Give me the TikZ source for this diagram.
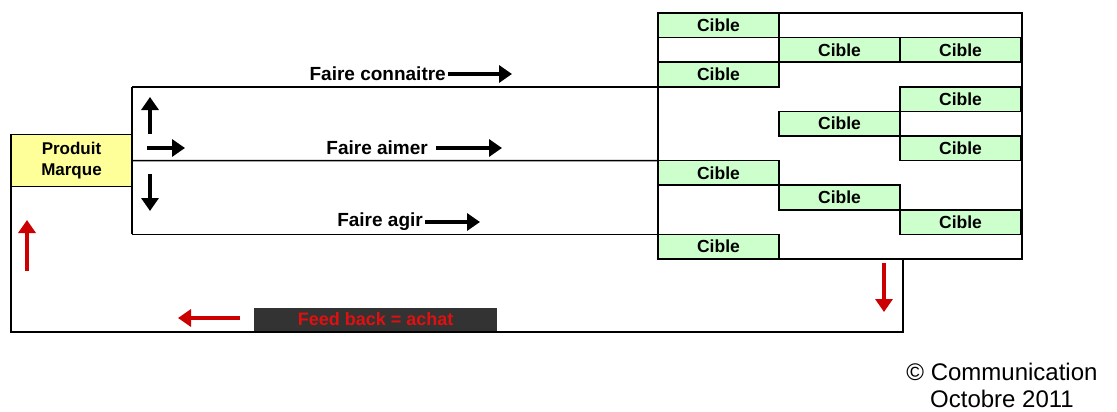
\documentclass[tikz,border=0pt]{standalone}
\usepackage{fontspec}
\setmainfont{Liberation Sans}
\usetikzlibrary{arrows.meta}
\definecolor{cellgreen}{HTML}{CCFFCC}
\definecolor{prodyellow}{HTML}{FFFF99}
\definecolor{fbgray}{HTML}{333333}
\definecolor{fbred}{HTML}{E01010}
\definecolor{arrowred}{HTML}{CC0000}
\begin{document}
\begin{tikzpicture}[x=1pt,y=-1pt,
  cell/.style={draw=black, line width=1.6pt, fill=cellgreen, minimum width=121pt,
    minimum height=24.6pt, inner sep=0pt, outer sep=0pt, anchor=north west,
    font=\fontsize{17.5}{17.5}\selectfont\bfseries},
  wire/.style={line width=1.6pt},
  blkarrow/.style={line width=4.5pt, -{Triangle[length=13pt,width=17pt]}},
  redarrow/.style={arrowred, line width=4.5pt, -{Triangle[length=13pt,width=17pt]}},
  lbl/.style={font=\fontsize{19}{19}\selectfont\bfseries, inner sep=2pt}]
\useasboundingbox (0,0) rectangle (1117,412);
\fill[white] (0,0) rectangle (1117,412);

% grid of targets
\coordinate (gNW) at (658,13);
\coordinate (gSE) at (1022,259);
\foreach \r/\c/\n in {0/0/c0, 1/1/c1, 1/2/c1b, 2/0/c2, 3/2/c3, 4/1/c4, 5/2/c5, 6/0/c6, 7/1/c7, 8/2/c8, 9/0/c9}{
  \node[cell] (\n) at ({658+\c*121},{13+\r*24.6}) {Cible};
}
\draw[line width=2.4pt] (gNW) rectangle (gSE);

% product box
\node[draw=black, line width=1.6pt, fill=prodyellow, minimum width=121pt, minimum height=52pt,
  inner sep=0pt, outer sep=0pt, align=center, font=\fontsize{17}{21}\selectfont\bfseries]
  (prod) at (71.5,160.6) {Produit\\Marque};

% three channels
\coordinate (tA) at (prod.east |- c2.south west);
\coordinate (tC) at (prod.east |- c9.north west);
\draw[wire] (tA) -- (tC);
\draw[wire] (tA) -- (c2.south west);
\draw[wire] (prod.east) -- (c6.north west);
\draw[wire] (tC) -- (c9.north west);

\coordinate (upE) at (150,97);
\coordinate (upS) at (150,134);
\coordinate (rtS) at (147,148);
\coordinate (rtE) at (185,148);
\coordinate (dnS) at (150,174);
\coordinate (dnE) at (150,211);
\draw[blkarrow] (upS) -- (upE);
\draw[blkarrow] (rtS) -- (rtE);
\draw[blkarrow] (dnS) -- (dnE);

\node[lbl, anchor=east] (l1) at (448,74) {Faire connaitre};
\coordinate (a1) at (512,74);
\draw[blkarrow] (l1.east) -- (a1);
\node[lbl, anchor=east] (l2) at (430,148) {Faire aimer};
\coordinate (a2) at (502,148);
\draw[blkarrow] ([xshift=6pt]l2.east) -- (a2);
\node[lbl, anchor=east] (l3) at (425,222) {Faire agir};
\coordinate (a3) at (480,222);
\draw[blkarrow] (l3.east) -- (a3);

% feedback loop
\coordinate (fbR) at (903,259);
\coordinate (fbRB) at (903,332);
\coordinate (fbLB) at (prod.south west |- fbRB);
\draw[wire] (fbR) -- (fbRB) -- (fbLB) -- (prod.south west);
\node[fill=fbgray, minimum width=243pt, minimum height=23pt, inner sep=0pt, anchor=south west,
  text=fbred, font=\fontsize{18}{18}\selectfont\bfseries] (fb) at (254,331) {Feed back = achat};

\coordinate (r1S) at (27,271);
\coordinate (r1E) at (27,220);
\coordinate (r2S) at (884,263);
\coordinate (r2E) at (884,312);
\coordinate (r3S) at (240,318);
\coordinate (r3E) at (178,318);
\draw[redarrow] (r1S) -- (r1E);
\draw[redarrow] (r2S) -- (r2E);
\draw[redarrow] (r3S) -- (r3E);

% credit
\node[align=center, font=\fontsize{24}{27}\selectfont, inner sep=0pt] (credit) at (1002,385)
  {© Communication\\Octobre 2011};
\end{tikzpicture}
\end{document}
